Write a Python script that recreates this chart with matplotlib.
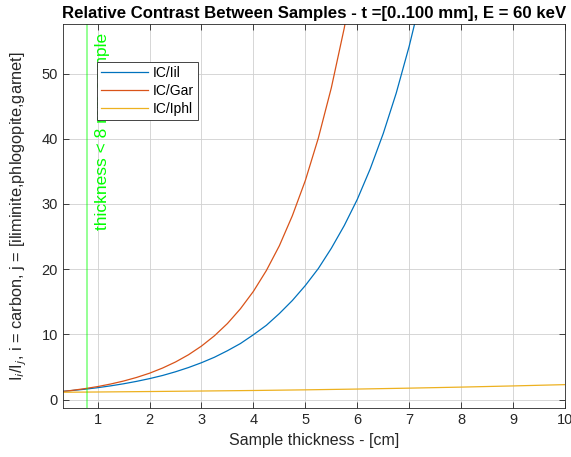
import matplotlib
matplotlib.use('Agg')
import matplotlib.pyplot as plt

# values (thickness in cm, intensity ratio)
t_il = [0.33, 0.5, 0.75, 1.0, 1.25, 1.5, 1.75, 2.0, 2.25, 2.5, 2.75, 3.0, 3.25, 3.5,
        3.75, 4.0, 4.25, 4.5, 4.75, 5.0, 5.25, 5.5, 5.75, 6.0, 6.25, 6.5, 6.75, 7.0, 7.25]
r_il = [1.27, 1.39, 1.59, 1.83, 2.11, 2.43, 2.80, 3.22, 3.70, 4.27, 4.92, 5.66, 6.5, 7.5,
        8.6, 9.95, 11.4, 13.2, 15.2, 17.5, 20.1, 23.2, 26.7, 30.7, 35.4, 40.8, 47.0, 54.2, 62.4]

t_gar = [0.33, 0.5, 0.75, 1.0, 1.25, 1.5, 1.75, 2.0, 2.25, 2.5, 2.75, 3.0, 3.25, 3.5,
         3.75, 4.0, 4.25, 4.5, 4.75, 5.0, 5.25, 5.5, 5.75, 6.0]
r_gar = [1.25, 1.41, 1.68, 2.00, 2.39, 2.85, 3.40, 4.05, 4.84, 5.77, 6.88, 8.21, 9.79, 11.67,
         13.93, 16.6, 19.8, 23.6, 28.2, 33.6, 40.1, 47.8, 57.0, 68.0]

t_phl = [0.33, 1, 2, 3, 4, 5, 6, 7, 8, 9, 10]
r_phl = [1.13, 1.17, 1.24, 1.32, 1.40, 1.50, 1.62, 1.76, 1.92, 2.10, 2.30]

min_thick = 0.8
labels = ['IC/Iil', 'IC/Gar', 'IC/Iphl']
colors = ['#0072BD', '#D95319', '#EDB120']

plt.rcParams['font.family'] = ['Liberation Sans', 'DejaVu Sans']

fig = plt.figure(figsize=(5.71, 4.57), dpi=100)
ax = fig.add_axes([0.110, 0.107, 0.8795, 0.8405])

ax.plot(t_il, r_il, color=colors[0], lw=0.9, label=labels[0])
ax.plot(t_gar, r_gar, color=colors[1], lw=0.9, label=labels[1])
ax.plot(t_phl, r_phl, color=colors[2], lw=0.9, label=labels[2])

ax.axvline(min_thick, color=(0, 1, 0), alpha=0.45, lw=1.3)
ax.text(1.085, 26, 'thickness < 8 mm sample', rotation=90, color=(0, 1, 0),
        fontsize=12.5, ha='center', va='bottom', clip_on=True)

ax.set_xlim(0.33, 10)
ax.set_ylim(-1.3, 57.6)
ax.set_xticks(range(1, 11))
ax.set_yticks(range(0, 60, 10))

ax.grid(True, color='#d0d0d0', lw=0.6)
ax.tick_params(direction='in', top=True, right=True, labelsize=10.5,
               colors='#262626', length=4, width=0.6)
for s in ax.spines.values():
    s.set_color('#262626')
    s.set_linewidth(0.6)

ax.set_xlabel('Sample thickness - [cm]', fontsize=11.5, color='#262626')
ax.set_ylabel(r'I$_i$/I$_j$, i = carbon, j = [iliminite,phlogopite,garnet]',
              fontsize=11.8, color='#262626')
ax.yaxis.set_label_coords(-0.067, 0.5)
ax.set_title('Relative Contrast Between Samples - t =[0..100 mm], E = 60 keV',
             fontsize=12.1, fontweight='bold', pad=4)

leg = ax.legend(loc='upper left', bbox_to_anchor=(0.068, 0.902), fontsize=10,
                fancybox=False, framealpha=1, edgecolor='#262626',
                handlelength=3.4, handletextpad=0.3, borderpad=0.3,
                borderaxespad=0, labelspacing=0.3)
leg.get_frame().set_linewidth(0.6)

fig.savefig('out.png', dpi=100)
